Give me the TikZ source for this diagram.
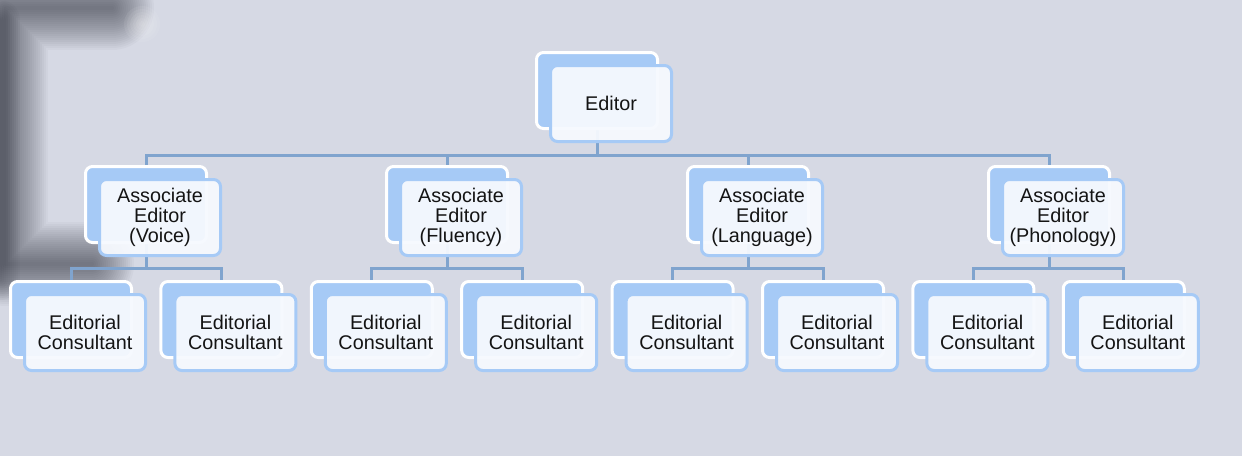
\documentclass[tikz,border=0pt]{standalone}
\usepackage{fontspec}
\setmainfont{Liberation Sans}
\begin{document}
\begin{tikzpicture}[x=1pt,y=-1pt]
\definecolor{bgcol}{RGB}{214,217,228}
\definecolor{backblue}{RGB}{166,202,246}
\definecolor{frontfill}{RGB}{246,249,254}
\definecolor{conncol}{RGB}{128,164,206}
\definecolor{darkblur}{RGB}{28,30,42}
\tikzset{
  backbox/.style={draw=white, fill=backblue, line width=3pt, rounded corners=7pt,
    minimum width=121pt, minimum height=76pt, inner sep=0pt, anchor=north west},
  frontbox/.style={draw=backblue, fill=frontfill, fill opacity=0.95, text opacity=1,
    line width=3pt, rounded corners=7pt, minimum width=121pt, minimum height=76pt,
    inner sep=0pt, anchor=north west, align=center, text=black!92,
    font=\fontsize{19.8}{20}\selectfont},
  ghost/.style={backbox, draw=none, fill=none},
  conn/.style={draw=conncol, line width=3pt},
  blurline/.style={draw=darkblur, line join=round, line cap=round}
}
\newcommand\orgunit[4]{%
  \node[backbox] (#1-b) at (#2,#3) {};
  \node[frontbox] (#1) at ({#2+14},{#3+13}) {#4};}
% background
\fill[bgcol] (0,0) rectangle (1242,456);
\useasboundingbox (0,0) rectangle (1242,456);
\foreach \w in {84,80,...,4}
  {\draw[blurline, line width=\w pt, opacity=0.032] (112,8) -- (6,8) -- (6,264) -- (92,264);}
\foreach \w in {40,36,...,4}
  {\draw[blurline, line width=\w pt, opacity=0.03] (0,20) -- (0,280);}
\foreach \r in {18,15,...,3}
  {\fill[white, opacity=0.07] (142,24) circle (\r);}
% bus coordinates
\coordinate (busE) at (0,155);
\coordinate (busA) at (0,268);
% position markers for connectors
\node[ghost] (ed-g) at (535,51) {};
\foreach \i in {1,...,4}
  {\pgfmathsetmacro\xx{84+301*(\i-1)}\node[ghost] (a\i-g) at (\xx,165) {};}
\foreach \j in {1,...,8}
  {\pgfmathsetmacro\xx{9+150.4*(\j-1)}\node[ghost] (c\j-g) at (\xx,280) {};}
% connectors
\foreach \i in {1,...,4}
  {\draw[conn] (ed-g.center) -- (ed-g.center |- busE) -| (a\i-g.center);}
\foreach \i/\p/\q in {1/1/2, 2/3/4, 3/5/6, 4/7/8} {
  \draw[conn] (a\i-g.center) -- (a\i-g.center |- busA) -| (c\p-g.center);
  \draw[conn] (a\i-g.center) -- (a\i-g.center |- busA) -| (c\q-g.center);
}
% boxes
\orgunit{ed}{535}{51}{Editor}
\orgunit{a1}{84}{165}{Associate\\Editor\\(Voice)}
\orgunit{a2}{385}{165}{Associate\\Editor\\(Fluency)}
\orgunit{a3}{686}{165}{Associate\\Editor\\(Language)}
\orgunit{a4}{987}{165}{Associate\\Editor\\(Phonology)}
\foreach \j in {1,...,8}
  {\pgfmathsetmacro\xx{9+150.4*(\j-1)}\orgunit{c\j}{\xx}{280}{Editorial\\Consultant}}
\end{tikzpicture}
\end{document}
